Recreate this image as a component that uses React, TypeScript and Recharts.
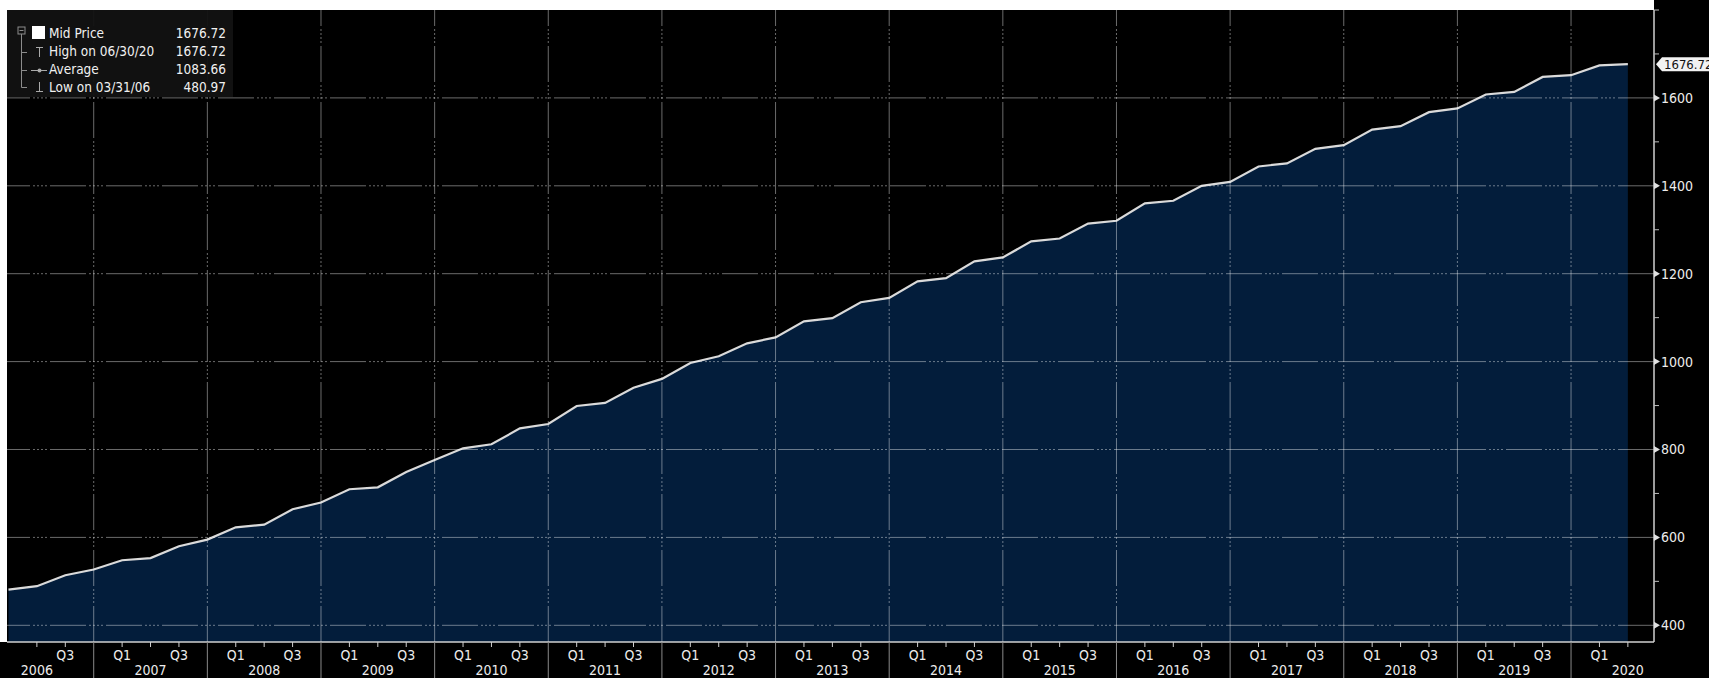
import { AreaChart, Area, XAxis, YAxis, ReferenceLine } from 'recharts'

// quarter-end observation dates (MM/DD/YY) and mid price
const dates = [
  '03/31/06', '06/30/06', '09/30/06', '12/31/06',
  '03/31/07', '06/30/07', '09/30/07', '12/31/07',
  '03/31/08', '06/30/08', '09/30/08', '12/31/08',
  '03/31/09', '06/30/09', '09/30/09', '12/31/09',
  '03/31/10', '06/30/10', '09/30/10', '12/31/10',
  '03/31/11', '06/30/11', '09/30/11', '12/31/11',
  '03/31/12', '06/30/12', '09/30/12', '12/31/12',
  '03/31/13', '06/30/13', '09/30/13', '12/31/13',
  '03/31/14', '06/30/14', '09/30/14', '12/31/14',
  '03/31/15', '06/30/15', '09/30/15', '12/31/15',
  '03/31/16', '06/30/16', '09/30/16', '12/31/16',
  '03/31/17', '06/30/17', '09/30/17', '12/31/17',
  '03/31/18', '06/30/18', '09/30/18', '12/31/18',
  '03/31/19', '06/30/19', '09/30/19', '12/31/19',
  '03/31/20', '06/30/20',
]

const midPrice = [
  480.97, 489, 514, 527,
  548, 553, 580, 595,
  623, 629, 664, 679.5,
  709.5, 714, 749, 776,
  802.7, 812, 848, 858,
  899, 906, 940.5, 960.7,
  997, 1012, 1041.6, 1055,
  1091.6, 1099, 1135, 1145,
  1182.5, 1190, 1228, 1237,
  1273.5, 1280, 1314, 1320.5,
  1360, 1366, 1400, 1409,
  1444, 1451, 1484, 1492.5,
  1528, 1535.7, 1567.5, 1576,
  1607.7, 1613.6, 1647.7, 1651.6,
  1674, 1676.72,
]

const years = [2006, 2007, 2008, 2009, 2010, 2011, 2012, 2013, 2014, 2015, 2016, 2017, 2018, 2019, 2020]
const quarterLabels: Record<string, string> = { '0.25': 'Q1', '0.75': 'Q3' }
const yGridValues = [400, 600, 800, 1000, 1200, 1400, 1600]
const yTickValues = [400, 500, 600, 700, 800, 900, 1000, 1100, 1200, 1300, 1400, 1500, 1600, 1700, 1800]

const legendRows = [
  { label: 'Mid Price', value: '1676.72' },
  { label: 'High on 06/30/20', value: '1676.72' },
  { label: 'Average', value: '1083.66' },
  { label: 'Low on 03/31/06', value: '480.97' },
]

const lastPrice = midPrice[midPrice.length - 1]
const X_MIN = 2006.237
const X_MAX = 2020.73

const toYear = (d: string) => {
  const [m, , y] = d.split('/')
  return 2000 + Number(y) + Number(m) / 12
}

const data = dates.map((d, i) => ({ t: toYear(d), price: midPrice[i] }))

const xTicks: number[] = []
years.forEach((yr) => {
  ;[0, 0.25, 0.5, 0.75].forEach((q) => {
    const v = yr + q
    if (v > 2006.4 && v < X_MAX) xTicks.push(v)
  })
})

const FONT = "'DejaVu Sans Condensed', 'Liberation Sans Narrow', 'DejaVu Sans', sans-serif"
const TXT = '#ececec'
const GRID_DASH = '36 3 2 2 2 2 2 2 2 3'

function XTick(props: any) {
  const { x, y, payload } = props
  const v: number = payload.value
  const frac = Math.round((v - Math.floor(v)) * 100) / 100
  if (frac === 0) {
    return <line x1={x} x2={x} y1={y} y2={y + 40} stroke="#8a8a8a" strokeWidth={1} />
  }
  return (
    <g>
      <line x1={x} x2={x} y1={y} y2={y + 5} stroke="#cfcfcf" strokeWidth={1} />
      {frac === 0.5 ? (
        <text x={x} y={y + 33} textAnchor="middle" fill={TXT} fontSize={14} fontFamily={FONT}>
          {String(Math.floor(v))}
        </text>
      ) : (
        <text x={x} y={y + 18} textAnchor="middle" fill={TXT} fontSize={14} fontFamily={FONT}>
          {quarterLabels[String(frac)]}
        </text>
      )}
    </g>
  )
}

function YTick(props: any) {
  const { x, y, payload } = props
  const v: number = payload.value
  if (v === lastPrice) {
    return (
      <g>
        <path
          d={`M${x + 2},${y} L${x + 8},${y - 7} L${x + 70},${y - 7} L${x + 70},${y + 7} L${x + 8},${y + 7} Z`}
          fill="#f2f2f2"
        />
        <text x={x + 10} y={y + 5} fill="#111" fontSize={13} fontFamily={FONT}>
          {lastPrice.toFixed(2)}
        </text>
      </g>
    )
  }
  if (yGridValues.includes(v)) {
    return (
      <g>
        <path d={`M${x},${y - 3.5} L${x + 6},${y} L${x},${y + 3.5} Z`} fill="#e0e0e0" />
        <text x={x + 7} y={y + 5} fill={TXT} fontSize={14} fontFamily={FONT}>
          {v}
        </text>
      </g>
    )
  }
  return <line x1={x} x2={x + 5} y1={y} y2={y} stroke="#bdbdbd" strokeWidth={1} />
}

function Legend() {
  return (
    <svg width={228} height={88} style={{ position: 'absolute', left: 7, top: 10 }}>
      <rect x={0} y={0} width={226} height={87} fill="#121212" fillOpacity={0.95} />
      {/* tree lines */}
      <rect x={11} y={17} width={7} height={7} fill="none" stroke="#8c8c8c" strokeWidth={1} />
      <line x1={12.5} x2={16.5} y1={20.5} y2={20.5} stroke="#8c8c8c" />
      <line x1={14.5} x2={14.5} y1={24} y2={77.5} stroke="#8c8c8c" />
      <line x1={14.5} x2={20} y1={42.5} y2={42.5} stroke="#8c8c8c" />
      <line x1={14.5} x2={20} y1={60.5} y2={60.5} stroke="#8c8c8c" />
      <line x1={14.5} x2={20} y1={77.5} y2={77.5} stroke="#8c8c8c" />
      {/* icons */}
      <rect x={25} y={16} width={13} height={13} fill="#ffffff" />
      <line x1={32.5} x2={32.5} y1={37} y2={47} stroke="#aaa" />
      <line x1={29} x2={36} y1={37.5} y2={37.5} stroke="#aaa" />
      <line x1={24} x2={40} y1={60.5} y2={60.5} stroke="#aaa" />
      <circle cx={32.5} cy={60.5} r={2} fill="#aaa" />
      <line x1={32.5} x2={32.5} y1={72} y2={82} stroke="#aaa" />
      <line x1={29} x2={36} y1={81.5} y2={81.5} stroke="#aaa" />
      {legendRows.map((r, i) => (
        <g key={r.label}>
          <text x={42} y={28 + i * 18} fill="#f0f0f0" fontSize={13.5} fontFamily={FONT}>
            {r.label}
          </text>
          <text x={219} y={28 + i * 18} fill="#f0f0f0" fontSize={13.5} fontFamily={FONT} textAnchor="end">
            {r.value}
          </text>
        </g>
      ))}
    </svg>
  )
}

export default function App() {
  return (
    <div style={{ position: 'absolute', left: 0, top: 0, width: 1709, height: 678, background: '#000', overflow: 'hidden' }}>
      <div style={{ position: 'absolute', left: 0, top: 0, width: 1654, height: 10, background: '#fff' }} />
      <div style={{ position: 'absolute', left: 0, top: 0, width: 7, height: 642, background: '#fff' }} />
      <div style={{ position: 'absolute', left: 0, top: 0 }}>
        <AreaChart width={1709} height={678} data={data} margin={{ top: 10, right: 0, left: 7, bottom: 0 }}>
          <XAxis
            dataKey="t"
            type="number"
            domain={[X_MIN, X_MAX]}
            allowDataOverflow
            ticks={xTicks}
            interval={0}
            tick={<XTick />}
            tickLine={false}
            tickSize={0}
            tickMargin={0}
            height={36}
            axisLine={{ stroke: '#d0d0d0', strokeWidth: 1.5 }}
          />
          <YAxis
            orientation="right"
            type="number"
            domain={[362, 1800]}
            allowDataOverflow
            ticks={[...yTickValues, lastPrice]}
            interval={0}
            tick={<YTick />}
            tickLine={false}
            tickSize={0}
            tickMargin={0}
            width={55}
            axisLine={{ stroke: '#d0d0d0', strokeWidth: 1.5 }}
          />
          <Area
            type="linear"
            dataKey="price"
            stroke="#dadada"
            strokeWidth={2.2}
            fill="#031d3b"
            fillOpacity={1}
            dot={false}
            activeDot={false}
            isAnimationActive={false}
          />
          {yGridValues.map((v) => (
            <ReferenceLine key={'h' + v} y={v} stroke="#ffffff" strokeOpacity={0.42} strokeDasharray={GRID_DASH} />
          ))}
          {years.slice(1).map((yr) => (
            <ReferenceLine key={'v' + yr} x={yr} stroke="#ffffff" strokeOpacity={0.42} strokeDasharray={GRID_DASH} />
          ))}
        </AreaChart>
      </div>
      <Legend />
    </div>
  )
}
